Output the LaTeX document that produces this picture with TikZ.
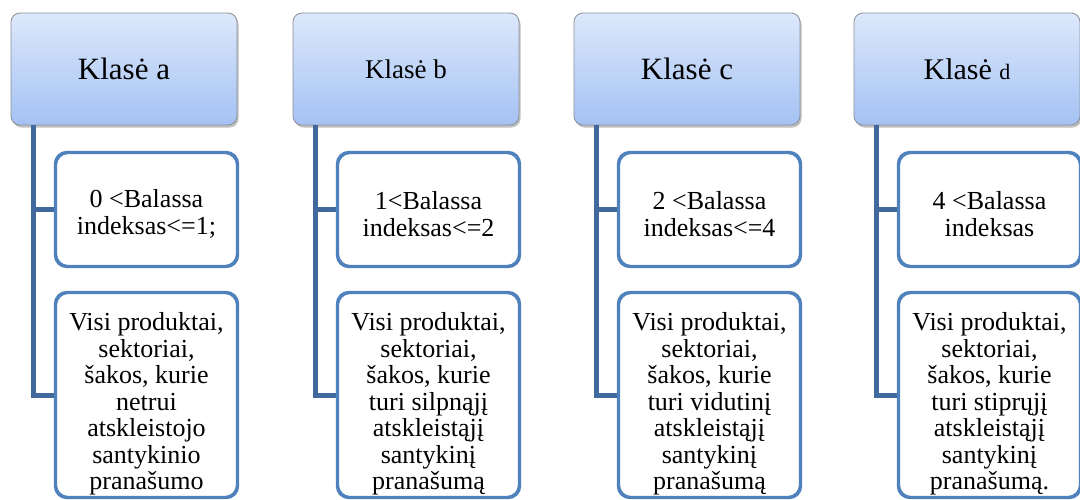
\documentclass[tikz,border=0pt]{standalone}
\usepackage{fontspec}
\setmainfont{Liberation Serif}
\usetikzlibrary{shadows}
\definecolor{hdtop}{HTML}{DDE8FB}
\definecolor{hdbot}{HTML}{A4C2F4}
\definecolor{hdline}{HTML}{8A8F99}
\definecolor{chline}{HTML}{4F81BD}
\definecolor{connc}{HTML}{41699E}
\newcommand{\firstpad}[1]{\rule{0pt}{#1}}
\tikzset{
  header/.style={draw=hdline, line width=0.8pt, rounded corners=9pt, top color=hdtop, bottom color=hdbot,
    minimum width=226pt, minimum height=112pt, inner sep=0pt, align=center,
    drop shadow={opacity=0.35, shadow xshift=1.5pt, shadow yshift=-2.5pt, fill=black!70}},
  child/.style={draw=chline, line width=2.2pt, rounded corners=12pt, fill=white,
    minimum width=181pt, inner sep=0pt, align=center, font=\fontsize{26}{26.5}\selectfont},
  conn/.style={draw=connc, line width=5pt},
  hfontA/.style={font=\fontsize{31}{31}\selectfont},
  hfontB/.style={font=\fontsize{27}{27}\selectfont}
}
\begin{document}
\begin{tikzpicture}[x=1pt,y=-1pt]
\useasboundingbox[fill=white] (0,0) rectangle (1080,499);
% column a
\node[header,hfontA] (ha) at (124,69) {Klasė a};
\node[child, minimum height=113pt] (c1a) at (146.5,209.5) {\firstpad{27pt}0 <Balassa\\indeksas<=1;};
\node[child, minimum height=204pt] (c2a) at (146.5,395) {\firstpad{36pt}Visi produktai,\\sektoriai,\\šakos, kurie\\netrui\\atskleistojo\\santykinio\\pranašumo};
% column b
\node[header,hfontB] (hb) at (406,69) {Klasė b};
\node[child, minimum height=113pt] (c1b) at (428.5,209.5) {\firstpad{27pt}1<Balassa\\indeksas<=2};
\node[child, minimum height=204pt] (c2b) at (428.5,395) {\firstpad{36pt}Visi produktai,\\sektoriai,\\šakos, kurie\\turi silpnąjį\\atskleistąjį\\santykinį\\pranašumą};
% column c
\node[header,hfontA] (hc) at (687,69) {Klasė c};
\node[child, minimum height=113pt] (c1c) at (709.5,209.5) {\firstpad{27pt}2 <Balassa\\indeksas<=4};
\node[child, minimum height=204pt] (c2c) at (709.5,395) {\firstpad{36pt}Visi produktai,\\sektoriai,\\šakos, kurie\\turi vidutinį\\atskleistąjį\\santykinį\\pranašumą};
% column d
\node[header,font=\fontsize{30}{30}\selectfont] (hd) at (967,69) {Klasė {\fontsize{22}{22}\selectfont d}};
\node[child, minimum height=113pt] (c1d) at (989.5,209.5) {\firstpad{27pt}4 <Balassa\\indeksas};
\node[child, minimum height=204pt] (c2d) at (989.5,395) {\firstpad{36pt}Visi produktai,\\sektoriai,\\šakos, kurie\\turi stiprųjį\\atskleistąjį\\santykinį\\pranašumą.};
% connectors
\foreach \c in {a,b,c,d}{
  \coordinate (t\c) at ([xshift=23pt]h\c.south west);
  \draw[conn] (t\c) |- (c2\c.west);
  \draw[conn] (t\c |- c1\c.west) -- (c1\c.west);
}
% redraw child outlines on top of connectors
\foreach \c in {a,b,c,d}{
  \draw[chline, line width=2.2pt, rounded corners=12pt] (c1\c.south west) rectangle (c1\c.north east);
  \draw[chline, line width=2.2pt, rounded corners=12pt] (c2\c.south west) rectangle (c2\c.north east);
}
\end{tikzpicture}
\end{document}
